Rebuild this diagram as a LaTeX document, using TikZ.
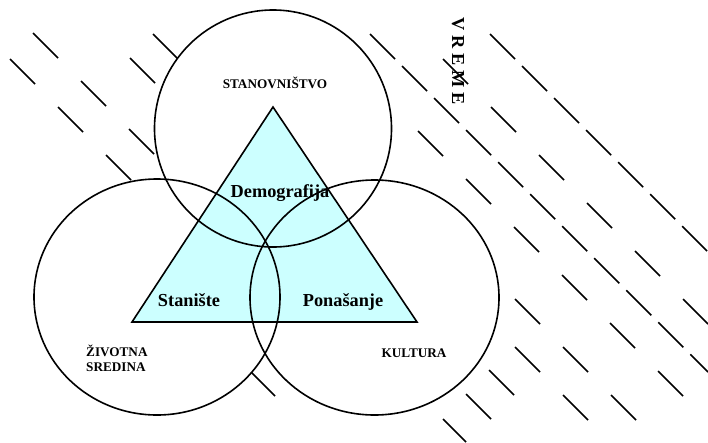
\documentclass[tikz,border=0pt]{standalone}
\usepackage{fontspec}
\setmainfont{Liberation Serif}[BoldFont={Liberation Serif Bold}]
\definecolor{trifill}{HTML}{CCFFFF}
\tikzset{
	rim/.style = {line width=1.6pt},
	rain/.style = {line width=1.6pt, dash pattern=on 35.4pt off 32.5pt},
	heavyrain/.style = {line width=1.6pt, dash pattern=on 35.4pt off 9.9pt},
	biglabel/.style = {font=\fontsize{18.3}{20}\selectfont\bfseries, inner sep=0pt},
	smalllabel/.style = {font=\fontsize{13.2}{15}\selectfont\bfseries, inner sep=0pt}
}

\begin{document}
\begin{tikzpicture}[x=1pt, y=-1pt]
		\useasboundingbox (0, 0) rectangle (708, 442);
		%%%%%%%%%%%%%
		\coordinate (cstan) at (273, 128.5);
		\coordinate (czivot) at (157, 297);
		\coordinate (ckult) at (374.5, 297.5);
		\coordinate (apex) at (273, 107);
		\coordinate (baseL) at (132, 322);
		\coordinate (baseR) at (417, 322);
		%%%%%%%%%%%%%
		\foreach \x/\y/\len/\kind in {10/59/121/rain, 33/33/121/rain, 130/58/361/rain,
				153/34/361/rain, 515/347/73/rain, 515/299/121/rain, 418/131/265/rain,
				370/34/338/heavyrain, 443/59/265/rain, 490/34/217/heavyrain,
				250/371/25/rain, 443/419/23/rain}
			\draw [\kind] (\x, \y) -- ++(\len, \len);
		%%%%%%%%%%%%%
		\fill [white] (cstan) circle [radius=118.5];
		\fill [white] (czivot) ellipse [x radius=123, y radius=118];
		\fill [white] (ckult) ellipse [x radius=124.5, y radius=117.5];
		\draw [rim, fill=trifill] (apex) -- (baseR) -- (baseL) -- cycle;
		\draw [rim] (cstan) circle [radius=118.5];
		\draw [rim] (czivot) ellipse [x radius=123, y radius=118];
		\draw [rim] (ckult) ellipse [x radius=124.5, y radius=117.5];
		%%%%%%%%%%%%%
		\node (stan) [smalllabel, anchor=base] at (275, 88) {STANOVNIŠTVO};
		\node (kult) [smalllabel, anchor=base] at (414, 357) {KULTURA};
		\node (zivot) [smalllabel, anchor=base west] at (86, 356) {ŽIVOTNA};
		\node (sred) [smalllabel, anchor=base west] at (86, 371) {SREDINA};
		\node (demo) [biglabel, anchor=base] at (280, 197) {Demografija};
		\node (stanis) [biglabel, anchor=base] at (189, 306) {Stanište};
		\node (pona) [biglabel, anchor=base] at (343, 306) {Ponašanje};
		\node (vreme) [biglabel, rotate=-90, anchor=base] at (452, 61) {V R E M E};
\end{tikzpicture}
\end{document}
